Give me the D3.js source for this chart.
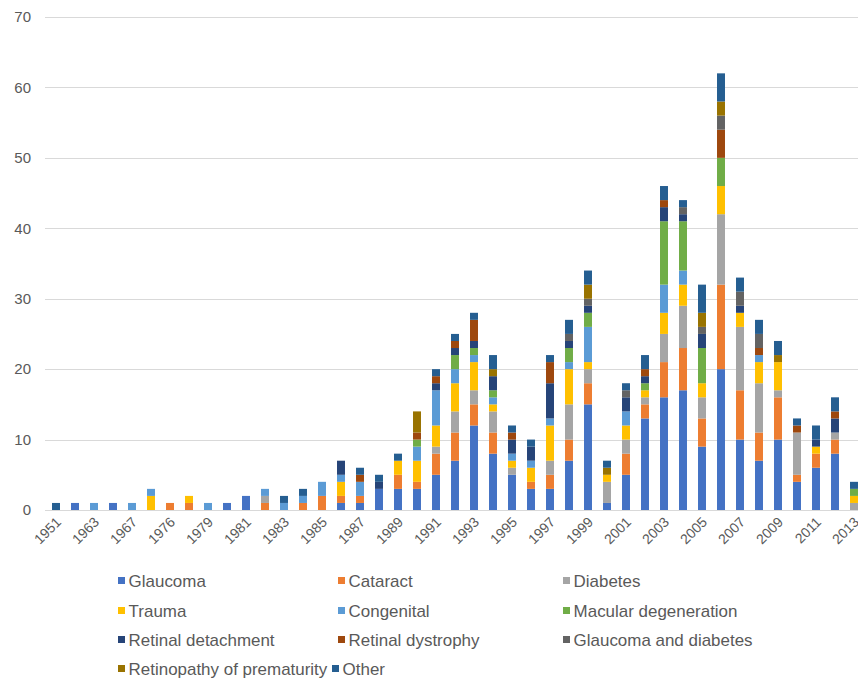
<!DOCTYPE html>
<html>
<head>
<meta charset="utf-8">
<script src="https://cdn.jsdelivr.net/npm/d3@7"></script>
<style>
  html, body { margin: 0; padding: 0; background: #ffffff; }
  svg { display: block; font-family: "Liberation Sans", Arial, sans-serif; }
</style>
</head>
<body>
<svg id="chart" width="858" height="678"></svg>
<script>
// Years of publication (one bar each)
const years = [1951, 1961, 1963, 1965, 1967, 1972, 1976, 1978, 1979, 1980,
  1981, 1982, 1983, 1984, 1985, 1986, 1987, 1988, 1989, 1990,
  1991, 1992, 1993, 1994, 1995, 1996, 1997, 1998, 1999, 2000,
  2001, 2002, 2003, 2004, 2005, 2006, 2007, 2008, 2009, 2010,
  2011, 2012, 2013];

// Only every second year is labelled on the axis
const xTickLabels = years.filter((d, i) => i % 2 === 0);
const yTicks = [0, 10, 20, 30, 40, 50, 60, 70];

const seriesNames = ["Glaucoma", "Cataract", "Diabetes", "Trauma", "Congenital",
  "Macular degeneration", "Retinal detachment", "Retinal dystrophy",
  "Glaucoma and diabetes", "Retinopathy of prematurity", "Other"];

const seriesColors = ["#4472C4", "#ED7D31", "#A5A5A5", "#FFC000", "#5B9BD5",
  "#70AD47", "#264478", "#9E480E", "#636363", "#997300", "#255E91"];

const glaucoma     = [0,1,0,1,0,0,0,0,0,1, 2,0,0,0,0,1,1,3,3,3, 5,7,12,8,5,3,3,7,15,1, 5,13,16,17,9,20,10,7,10,4, 6,8,0];
const cataract     = [0,0,0,0,0,0,1,1,0,0, 0,1,0,1,2,1,1,0,2,1, 3,4,3,3,0,1,2,3,3,0, 3,2,5,6,4,12,7,4,6,1, 2,2,0];
const diabetes     = [0,0,0,0,0,0,0,0,0,0, 0,1,0,0,0,0,0,0,0,0, 1,3,2,3,1,0,2,5,2,3, 2,1,4,6,3,10,9,7,1,6, 0,1,1];
const trauma       = [0,0,0,0,0,2,0,1,0,0, 0,0,0,0,0,2,0,0,2,3, 3,4,4,1,1,2,5,5,1,1, 2,1,3,3,2,4,2,3,4,0, 1,0,1];
const congenital   = [0,0,1,0,1,1,0,0,1,0, 0,1,1,1,2,1,2,0,0,2, 5,2,1,1,1,1,1,1,5,0, 2,0,4,2,0,0,0,1,0,0, 0,0,0];
const macular      = [0,0,0,0,0,0,0,0,0,0, 0,0,0,0,0,0,0,0,0,1, 0,2,1,1,0,0,0,2,2,0, 0,1,9,7,5,4,0,0,0,0, 0,0,1];
const retDetach    = [0,0,0,0,0,0,0,0,0,0, 0,0,0,0,0,2,0,1,0,0, 1,1,1,2,2,2,5,1,1,0, 2,1,2,1,2,0,1,0,0,0, 1,2,0];
const retDystrophy = [0,0,0,0,0,0,0,0,0,0, 0,0,0,0,0,0,1,0,0,1, 1,1,3,0,1,0,3,0,0,0, 0,1,1,0,0,4,0,1,0,1, 0,1,0];
const glaucDiab    = [0,0,0,0,0,0,0,0,0,0, 0,0,0,0,0,0,0,0,0,0, 0,0,0,0,0,0,0,1,1,0, 1,0,0,1,1,2,2,2,0,0, 0,0,0];
const rop          = [0,0,0,0,0,0,0,0,0,0, 0,0,0,0,0,0,0,0,0,3, 0,0,0,1,0,0,0,0,2,1, 0,0,0,0,2,2,0,0,1,0, 0,0,0];
const other        = [1,0,0,0,0,0,0,0,0,0, 0,0,1,1,0,0,1,1,1,0, 1,1,1,2,1,1,1,2,2,1, 1,2,2,1,4,4,2,2,2,1, 2,2,1];

const seriesValues = [glaucoma, cataract, diabetes, trauma, congenital, macular,
  retDetach, retDystrophy, glaucDiab, rop, other];

// Row table for d3.stack
const rows = years.map((y, i) => {
  const r = { year: String(y) };
  seriesNames.forEach((s, k) => { r[s] = seriesValues[k][i]; });
  return r;
});

const svg = d3.select("#chart");
const textColor = "#595959";
const gridColor = "#d9d9d9";

const x = d3.scaleBand()
  .domain(years.map(String))
  .range([46.5, 863.5])
  .paddingInner(0.58)
  .paddingOuter(0.29);

const y = d3.scaleLinear().domain([0, 70]).range([510, 17]);

// Horizontal gridlines
svg.append("g")
  .selectAll("line")
  .data(yTicks)
  .join("line")
  .attr("x1", 45).attr("x2", 858)
  .attr("y1", d => Math.round(y(d)) + 0.5)
  .attr("y2", d => Math.round(y(d)) + 0.5)
  .attr("stroke", gridColor)
  .attr("stroke-width", 1);

// Y axis labels
const yAxis = d3.axisLeft(y).tickValues(yTicks).tickSize(0).tickPadding(0);
svg.append("g")
  .attr("transform", "translate(31,0)")
  .call(yAxis)
  .call(g => g.select(".domain").remove())
  .call(g => g.selectAll("text")
    .attr("fill", textColor)
    .style("font-size", "15px")
    .style("font-family", "'Liberation Sans', Arial, sans-serif"));

// Stacked bars
const stack = d3.stack().keys(seriesNames);
const layers = stack(rows);

svg.append("g")
  .selectAll("g")
  .data(layers)
  .join("g")
  .attr("fill", (d, i) => seriesColors[i])
  .selectAll("rect")
  .data(d => d.filter(s => s[1] - s[0] > 0))
  .join("rect")
  .attr("x", d => x(d.data.year))
  .attr("width", x.bandwidth())
  .attr("y", d => y(d[1]))
  .attr("height", d => y(d[0]) - y(d[1]));

// X axis with rotated year labels
const xAxis = d3.axisBottom(x)
  .tickValues(xTickLabels.map(String))
  .tickSize(0)
  .tickPadding(0);

svg.append("g")
  .attr("transform", "translate(0,510)")
  .call(xAxis)
  .call(g => g.select(".domain").remove())
  .call(g => g.selectAll("text")
    .attr("fill", textColor)
    .style("font-size", "14px")
    .style("font-family", "'Liberation Sans', Arial, sans-serif")
    .attr("text-anchor", "end")
    .attr("dy", "0")
    .attr("y", 0)
    .attr("transform", "translate(6,13) rotate(-45)"));

// Legend: three columns, four rows
const legendX = [118, 338, 563];
const legendY = [581, 611, 640, 669];
const legend = svg.append("g");
seriesNames.forEach((name, i) => {
  const col = i % 3, row = Math.floor(i / 3);
  let lx = legendX[col];
  if (i === 10) lx = 332;
  const ly = legendY[row];
  const item = legend.append("g").attr("transform", `translate(${lx},${ly})`);
  item.append("rect")
    .attr("x", 0).attr("y", -4)
    .attr("width", 7).attr("height", 7)
    .attr("fill", seriesColors[i]);
  item.append("text")
    .attr("x", 10).attr("y", 0)
    .attr("dy", "0.35em")
    .attr("fill", textColor)
    .attr("transform", "scale(1.06,1)")
    .style("font-size", "16px")
    .text(name);
});
</script>
</body>
</html>
